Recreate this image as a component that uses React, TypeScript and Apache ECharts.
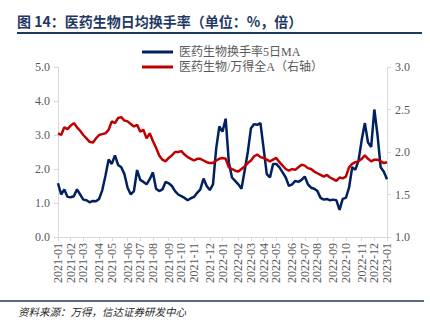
import React, { useEffect, useRef } from "react";
import * as echarts from "echarts";

const START_DATE = "2021-01-04";
const WEEK_COUNT = 105;

const turnoverMA5: number[] = [
  1.58, 1.25, 1.4, 1.18, 1.17, 1.2, 1.4, 1.25, 1.1, 1.08,
  1.02, 1.06, 1.05, 1.12, 1.38, 1.8, 2.28, 2.15, 2.4, 2.12,
  2.05, 1.85, 1.45, 1.25, 1.35, 1.97, 1.68, 1.62, 1.55, 1.7,
  1.9, 1.42, 1.35, 1.4, 1.62, 1.58, 1.5, 1.35, 1.25, 1.2,
  1.15, 1.08, 1.14, 1.18, 1.3, 1.4, 1.72, 1.5, 1.38, 1.55,
  2.6, 3.25, 3.1, 3.48, 2.2, 1.75, 1.65, 1.55, 1.42, 1.95,
  2.5, 3.2, 3.32, 3.3, 3.35, 2.6, 1.85, 1.75, 2.15, 2.15,
  2.05, 1.9, 1.75, 1.5, 1.55, 1.65, 1.62, 1.68, 1.78, 1.55,
  1.45, 1.42, 1.35, 1.15, 1.1, 1.12, 1.08, 1.1, 1.08, 0.8,
  1.12, 1.15, 1.45, 2.05, 1.98, 2.25, 2.85, 3.35, 2.78, 2.65,
  3.75, 3.0, 2.05, 1.92, 1.7,
];

const relativeToAll: number[] = [
  2.22, 2.2, 2.29, 2.27, 2.31, 2.34, 2.29, 2.25, 2.2, 2.16,
  2.12, 2.11, 2.16, 2.2, 2.21, 2.22, 2.26, 2.36, 2.34, 2.4,
  2.41, 2.37, 2.36, 2.33, 2.3, 2.32, 2.24, 2.26, 2.16, 2.22,
  2.13, 2.05, 1.96, 1.91, 1.89, 1.93, 1.96, 2.0, 2.0, 2.01,
  1.97, 1.94, 1.92, 1.9, 1.92, 1.92, 1.9, 1.88, 1.87, 1.87,
  1.9, 1.92, 1.93, 1.92, 1.82, 1.8, 1.78, 1.77, 1.8, 1.83,
  1.87, 1.9, 1.95, 1.97, 1.94, 1.93, 1.91, 1.89, 1.91, 1.93,
  1.88, 1.84, 1.8, 1.78, 1.8, 1.79, 1.82, 1.85, 1.84, 1.81,
  1.8, 1.77, 1.75, 1.73, 1.71, 1.73, 1.7, 1.68, 1.66, 1.7,
  1.69, 1.71, 1.82, 1.86, 1.88, 1.89, 1.92, 1.96, 1.92, 1.89,
  1.91, 1.91, 1.89, 1.87, 1.88,
];

const leftTicks = { min: 0, max: 5, interval: 1 };
const rightTicks = { min: 1, max: 3, interval: 0.5 };

const seriesNames = ["医药生物换手率5日MA", "医药生物/万得全A（右轴）"];
const titleText = "图 14：医药生物日均换手率（单位：%，倍）";
const sourceText = "资料来源：万得，信达证券研发中心";

function buildDates(): string[] {
  const out: string[] = [];
  const d0 = new Date(START_DATE + "T00:00:00Z");
  for (let i = 0; i < WEEK_COUNT; i++) {
    const d = new Date(d0.getTime() + i * 7 * 86400000);
    const y = d.getUTCFullYear();
    const m = String(d.getUTCMonth() + 1).padStart(2, "0");
    const dd = String(d.getUTCDate()).padStart(2, "0");
    out.push(`${y}-${m}-${dd}`);
  }
  return out;
}

export default function App() {
  const ref = useRef<HTMLDivElement>(null);
  useEffect(() => {
    if (!ref.current) return;
    const chart = echarts.init(ref.current, undefined, { renderer: "svg" });
    const dates = buildDates();
    const isMonthStart = (idx: number) =>
      idx === 0 || dates[idx].slice(0, 7) !== dates[idx - 1].slice(0, 7);
    const serif = "'Liberation Serif', 'Noto Sans CJK SC', serif";
    const gray = "#595959";
    const axisGray = "#d9d9d9";
    const navy = "#1f3864";
    chart.setOption({
      animation: false,
      backgroundColor: "#ffffff",
      grid: { left: 58, right: 43, top: 67, bottom: 91, containLabel: false },
      legend: {
        orient: "vertical",
        left: 137,
        top: 41,
        itemWidth: 31,
        itemHeight: 3,
        itemGap: 3,
        icon: "rect",
        textStyle: { color: gray, fontSize: 12, fontFamily: serif, padding: [0, 0, 0, 1] },
        data: seriesNames,
      },
      xAxis: {
        type: "category",
        data: dates,
        boundaryGap: false,
        axisLine: { lineStyle: { color: axisGray, width: 1 } },
        axisTick: {
          show: true,
          length: 4,
          interval: (idx: number) => isMonthStart(idx),
          lineStyle: { color: axisGray },
        },
        axisLabel: {
          rotate: 90,
          interval: (idx: number) => isMonthStart(idx),
          formatter: (v: string) => v.slice(0, 7),
          color: gray,
          fontSize: 12,
          fontFamily: serif,
          margin: 6,
        },
        splitLine: { show: false },
      },
      yAxis: [
        {
          type: "value",
          min: leftTicks.min,
          max: leftTicks.max,
          interval: leftTicks.interval,
          axisLine: { show: true, lineStyle: { color: axisGray } },
          axisTick: { show: true, length: 4, lineStyle: { color: axisGray } },
          axisLabel: {
            formatter: (v: number) => v.toFixed(1),
            color: gray,
            fontSize: 12,
            fontFamily: serif,
            margin: 8,
          },
          splitLine: { show: false },
        },
        {
          type: "value",
          min: rightTicks.min,
          max: rightTicks.max,
          interval: rightTicks.interval,
          position: "right",
          axisLine: { show: true, lineStyle: { color: axisGray } },
          axisTick: { show: true, length: 4, lineStyle: { color: axisGray } },
          axisLabel: {
            formatter: (v: number) => v.toFixed(1),
            color: gray,
            fontSize: 12,
            fontFamily: serif,
            margin: 8,
          },
          splitLine: { show: false },
        },
      ],
      series: [
        {
          name: seriesNames[0],
          type: "line",
          yAxisIndex: 0,
          data: turnoverMA5,
          showSymbol: false,
          symbol: "none",
          lineStyle: { color: "#002060", width: 2.5 },
          itemStyle: { color: "#002060" },
        },
        {
          name: seriesNames[1],
          type: "line",
          yAxisIndex: 1,
          data: relativeToAll,
          showSymbol: false,
          symbol: "none",
          lineStyle: { color: "#c00000", width: 2.5 },
          itemStyle: { color: "#c00000" },
        },
      ],
      graphic: [
        {
          type: "text",
          left: 17,
          top: 14,
          style: {
            text: titleText,
            fill: navy,
            font: "bold 14px 'Noto Sans CJK SC', sans-serif",
          },
        },
        {
          type: "line",
          shape: { x1: 17, y1: 33, x2: 422, y2: 33 },
          style: { stroke: navy, lineWidth: 2 },
        },
        {
          type: "line",
          shape: { x1: 0, y1: 301, x2: 424, y2: 301 },
          style: { stroke: navy, lineWidth: 1.5 },
        },
        {
          type: "text",
          left: 18,
          top: 306,
          style: {
            text: sourceText,
            fill: "#262626",
            font: "italic 10.5px 'Noto Sans CJK SC', sans-serif",
          },
        },
      ],
    });
    return () => chart.dispose();
  }, []);
  return (
    <div
      ref={ref}
      style={{ position: "fixed", left: 0, top: 0, width: 430, height: 328 }}
    />
  );
}
